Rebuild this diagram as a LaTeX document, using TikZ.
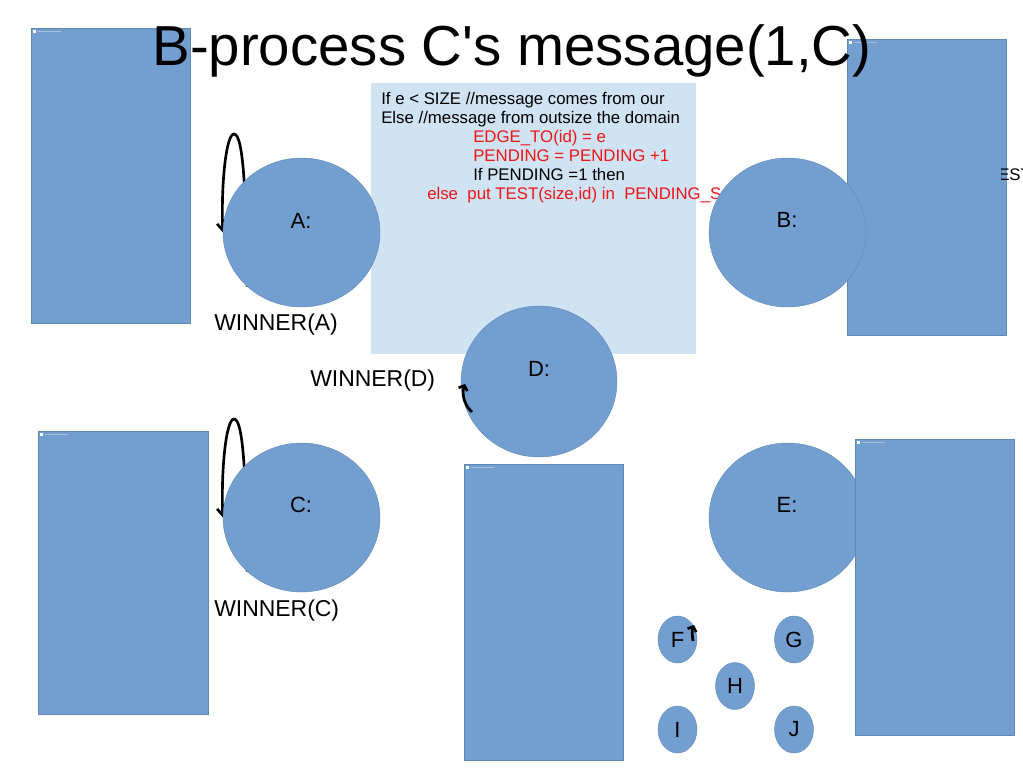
\documentclass[tikz,border=0pt]{standalone}
\usepackage{fontspec}
\setmainfont{Liberation Sans}[Ligatures=TeXOff]
\usetikzlibrary{shapes.geometric,arrows.meta,backgrounds}
\definecolor{nodeblue}{RGB}{114,159,207}
\definecolor{nodeedge}{RGB}{96,136,182}
\definecolor{boxblue}{RGB}{207,227,243}
\definecolor{codered}{RGB}{240,20,20}
\definecolor{markgray}{RGB}{170,190,215}
\tikzset{
  panel/.style={fill=nodeblue, draw=nodeedge, line width=0.5pt},
  bigcirc/.style={ellipse, fill=nodeblue, draw=nodeedge, line width=0.3pt,
    minimum width=157*0.75pt, minimum height=149*0.75pt, inner sep=0pt},
  smallcirc/.style={ellipse, fill=nodeblue, draw=nodeedge, line width=0.3pt,
    minimum width=39*0.75pt, minimum height=47*0.75pt, inner sep=0pt,
    font=\fontsize{16.5}{18}\selectfont},
  circlbl/.style={font=\fontsize{16.5}{18}\selectfont, inner sep=0pt},
  winner/.style={font=\fontsize{17.2}{20}\selectfont, inner sep=0pt, anchor=west},
  codeline/.style={font=\fontsize{12.6}{14}\selectfont, inner sep=0pt, anchor=base west},
  loopline/.style={line width=2pt, -{Straight Barb[length=5pt,width=8pt]}},
  markline/.style={line width=2pt, -{Straight Barb[length=3pt,width=7pt]}},
  cornermark/.style={draw=markgray, line width=0.4pt},
}
\newcommand\panelmark[2]{%
  \fill[white] (#1+2,#2+2) rectangle (#1+5,#2+5);
  \draw[cornermark] (#1+7,#2+3) -- (#1+30,#2+3);}
\begin{document}
\begin{tikzpicture}[x=0.75pt,y=-0.75pt]
\useasboundingbox (0,0) rectangle (1023,767);

% circles (main layer)
\node[bigcirc] (A) at (301.5,232.5) {};
\node[bigcirc] (B) at (787.5,232.5) {};
\node[bigcirc] (C) at (301.5,517.5) {};
\node[bigcirc, minimum width=156*0.75pt, minimum height=151*0.75pt] (D) at (539,381.5) {};
\node[bigcirc] (E) at (787.5,517.5) {};

\begin{pgfonlayer}{background}
  \fill[white] (0,0) rectangle (1023,767);
  % panels
  \fill[panel] (31,28) rectangle (190,323);   \panelmark{31}{28}
  \fill[panel] (847,39) rectangle (1006,335); \panelmark{847}{39}
  \fill[panel] (38,431) rectangle (208,714);  \panelmark{38}{431}
  \fill[panel] (464,464) rectangle (623,760); \panelmark{464}{464}
  % text box
  \fill[boxblue] (371,83) rectangle (696,354);
  \node[codeline] (l1) at (381,104.5) {If e < SIZE //message comes from our};
  \node[codeline] (l2) at (381,123.4) {Else //message from outsize the domain};
  \node[codeline, text=codered] (l3) at (473,142.3) {EDGE\_TO(id) = e};
  \node[codeline, text=codered] (l4) at (473,161.2) {PENDING = PENDING +1};
  \node[codeline] (l5) at (473,180.1) {If PENDING =1 then};
  \node[codeline, text=codered] (l6) at (427,199) {else~~put TEST(size,id) in~~PENDING\_S};
  % loops
  \draw[loopline] (A.225) .. controls (246,200) and (244,134) .. (234,134)
        .. controls (226,134) and (221,185) .. (A.west);
  \draw[loopline] (C.225) .. controls (246,485) and (244,419) .. (234,419)
        .. controls (226,419) and (221,470) .. (C.west);
\end{pgfonlayer}

% panel over circle E
\fill[panel] (855,439) rectangle (1014,735); \panelmark{855}{439}

% circle labels
\node[circlbl] (Al) at (301,221) {A:};
\node[circlbl] (Bl) at (787,220) {B:};
\node[circlbl] (Cl) at (301,505) {C:};
\node[circlbl] (Dl) at (539,369) {D:};
\node[circlbl] (El) at (787,505) {E:};

% small circles
\node[smallcirc] (F) at (677.5,639.5) {F};
\node[smallcirc] (G) at (794,639.5) {G};
\node[smallcirc] (H) at (735,686) {H};
\node[smallcirc] (I) at (677.5,729.5) {I};
\node[smallcirc] (J) at (794,729.5) {J};

% winner labels
\node[winner] (wa) at (214,325) {WINNER(A)};
\node[winner] (wd) at (310,381) {WINNER(D)};
\node[winner] (wc) at (214,611) {WINNER(C)};

% small marks
\coordinate (dtail) at (472,412);
\coordinate (dhead) at (465,384);
\draw[markline] (dtail) .. controls (463,404) and (462,392) .. (dhead);
\coordinate (ftail) at (693,641);
\coordinate (fhead) at (694,625);
\draw[markline] (ftail) .. controls (692,634) and (692,630) .. (fhead);

% partly visible text at the right edge
\begin{scope}
  \clip (1001,150) rectangle (1023,200);
  \node[codeline] (est) at (998,180) {EST};
\end{scope}

% title
\node[font=\fontsize{42.3}{48}\selectfont, inner sep=0pt, anchor=base] (title) at (512,65) {B-process C's message(1,C)};
\end{tikzpicture}
\end{document}
